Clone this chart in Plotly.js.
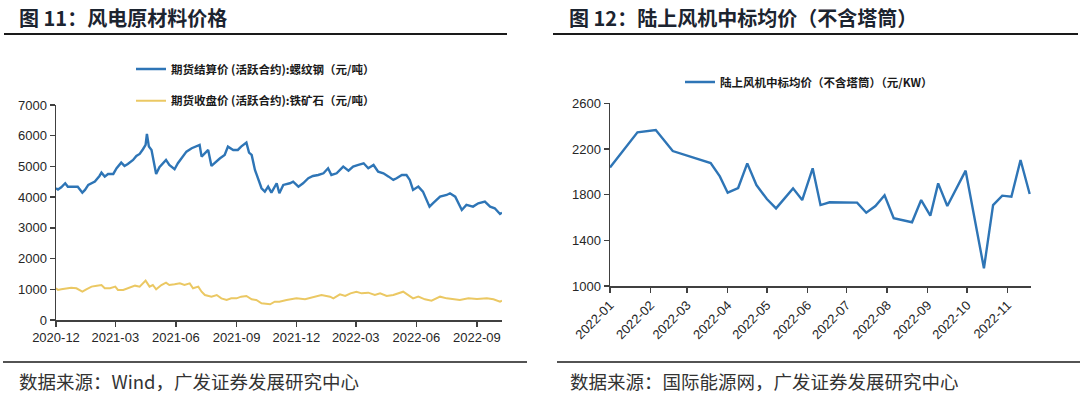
<!DOCTYPE html>
<html>
<head>
<meta charset="utf-8">
<script src="https://cdn.plot.ly/plotly-3.0.1.min.js"></script>
<style>
html,body{margin:0;padding:0;background:#fff;}
#chart{width:1080px;height:396px;}
</style>
</head>
<body>
<div id="chart"></div>
<script>
// ---- Left chart: 风电原材料价格 ----
const rebarDates = ['2020-12-01','2020-12-04','2020-12-09','2020-12-15','2020-12-19','2020-12-24','2020-12-29','2021-01-03','2021-01-10','2021-01-14','2021-01-19','2021-01-29','2021-02-05','2021-02-08','2021-02-13','2021-02-18','2021-02-26','2021-03-03','2021-03-10','2021-03-15','2021-03-20','2021-03-28','2021-04-02','2021-04-07','2021-04-12','2021-04-16','2021-04-18','2021-04-21','2021-04-25','2021-04-28','2021-05-02','2021-05-07','2021-05-12','2021-05-17','2021-05-22','2021-05-30','2021-06-04','2021-06-12','2021-06-17','2021-06-25','2021-07-02','2021-07-07','2021-07-10','2021-07-15','2021-07-20','2021-07-25','2021-07-30','2021-08-07','2021-08-14','2021-08-19','2021-08-27','2021-09-03','2021-09-08','2021-09-16','2021-09-20','2021-09-24','2021-09-29','2021-10-04','2021-10-09','2021-10-14','2021-10-19','2021-10-24','2021-11-01','2021-11-05','2021-11-11','2021-11-21','2021-11-26','2021-12-04','2021-12-11','2021-12-19','2021-12-26','2022-01-03','2022-01-11','2022-01-18','2022-01-23','2022-01-31','2022-02-10','2022-02-18','2022-02-25','2022-03-05','2022-03-13','2022-03-20','2022-03-28','2022-04-04','2022-04-12','2022-04-20','2022-04-27','2022-05-02','2022-05-10','2022-05-17','2022-05-22','2022-05-27','2022-06-04','2022-06-11','2022-06-16','2022-06-21','2022-06-26','2022-07-07','2022-07-17','2022-07-22','2022-07-30','2022-08-06','2022-08-09','2022-08-16','2022-08-26','2022-09-03','2022-09-13','2022-09-21','2022-09-28','2022-10-06','2022-10-09'];
const rebarValues = [4289,4250,4322,4452,4340,4340,4320,4340,4146,4234,4397,4505,4690,4797,4668,4755,4755,4940,5123,5016,5081,5211,5341,5407,5560,5700,6058,5645,5537,5156,4755,4973,5103,5211,5048,4908,5103,5341,5482,5592,5645,5700,5319,5428,5537,5016,5124,5265,5374,5645,5537,5537,5645,5776,5450,5374,4886,4560,4289,4180,4343,4146,4452,4126,4397,4452,4505,4343,4452,4615,4690,4722,4777,4940,4722,4777,4994,4863,4994,5048,5103,4940,5048,4831,4777,4668,4560,4615,4722,4722,4560,4234,4343,4180,3963,3691,3800,4017,4071,4126,4017,3746,3583,3746,3691,3800,3854,3691,3637,3452,3494];

const oreDates = ['2020-12-01','2020-12-04','2020-12-09','2020-12-17','2020-12-24','2021-01-01','2021-01-10','2021-01-16','2021-01-24','2021-02-01','2021-02-08','2021-02-13','2021-02-21','2021-03-01','2021-03-05','2021-03-13','2021-03-23','2021-03-31','2021-04-07','2021-04-16','2021-04-22','2021-04-27','2021-05-02','2021-05-10','2021-05-17','2021-05-22','2021-05-30','2021-06-07','2021-06-14','2021-06-22','2021-06-27','2021-07-05','2021-07-10','2021-07-15','2021-07-25','2021-08-02','2021-08-09','2021-08-17','2021-08-24','2021-09-01','2021-09-08','2021-09-16','2021-09-24','2021-10-01','2021-10-09','2021-10-17','2021-10-22','2021-10-29','2021-11-05','2021-11-16','2021-12-01','2021-12-14','2021-12-26','2022-01-08','2022-01-21','2022-01-26','2022-02-05','2022-02-13','2022-02-21','2022-03-02','2022-03-10','2022-03-20','2022-03-30','2022-04-07','2022-04-17','2022-04-27','2022-05-12','2022-05-20','2022-05-27','2022-06-04','2022-06-14','2022-06-24','2022-07-07','2022-07-17','2022-07-27','2022-08-06','2022-08-19','2022-09-01','2022-09-16','2022-09-26','2022-10-06','2022-10-09'];
const oreValues = [1032,977,1000,1032,1053,1032,922,1000,1086,1118,1140,1032,1032,1086,977,977,1053,1118,1086,1281,1086,1140,1000,1140,1216,1140,1162,1194,1140,1194,1032,1086,922,814,760,814,705,651,705,705,760,781,673,651,543,530,510,597,597,651,705,673,738,814,760,705,836,781,868,922,868,890,814,868,781,814,922,814,705,760,673,629,760,705,673,651,705,684,705,673,597,629];

// ---- Right chart: 陆上风机中标均价 ----
const bidDates = ['2022-01-01','2022-01-22','2022-02-05','2022-02-18','2022-03-19','2022-03-26','2022-04-01','2022-04-09','2022-04-16','2022-04-23','2022-05-01','2022-05-08','2022-05-21','2022-05-28','2022-06-05','2022-06-11','2022-06-18','2022-07-09','2022-07-16','2022-07-23','2022-07-30','2022-08-06','2022-08-20','2022-08-27','2022-09-03','2022-09-09','2022-09-16','2022-09-30','2022-10-14','2022-10-21','2022-10-28','2022-11-04','2022-11-11','2022-11-18'];
const bidValues = [2038,2346,2366,2182,2077,1960,1817,1858,2074,1884,1762,1680,1855,1753,2031,1709,1733,1730,1642,1700,1794,1593,1558,1753,1616,1899,1700,2010,1155,1709,1791,1782,2103,1806];

const leftTickLabels = ['0','1000','2000','3000','4000','5000','6000','7000'];
const rightTickLabels = ['1000','1400','1800','2200','2600'];

const W = 1080, H = 396;
const px = v => v / W;
const py = v => 1 - v / H;

const axisColor = '#404040';
const tickFont = {family: 'Liberation Sans, Arial, sans-serif', size: 13, color: '#262626'};
const cjk = 'Noto Sans CJK SC, sans-serif';

const traces = [
  {x: rebarDates, y: rebarValues, type: 'scatter', mode: 'lines',
   name: '期货结算价 (活跃合约):螺纹钢（元/吨）',
   line: {color: '#2E75B6', width: 2.4}, xaxis: 'x', yaxis: 'y', legend: 'legend'},
  {x: oreDates, y: oreValues, type: 'scatter', mode: 'lines',
   name: '期货收盘价 (活跃合约):铁矿石（元/吨）',
   line: {color: '#EBC863', width: 2}, xaxis: 'x', yaxis: 'y', legend: 'legend2'},
  {x: bidDates, y: bidValues, type: 'scatter', mode: 'lines',
   name: '陆上风机中标均价（不含塔筒）（元/KW）',
   line: {color: '#2E75B6', width: 2.4}, xaxis: 'x2', yaxis: 'y2', legend: 'legend3'}
];

const commonAxis = {
  showgrid: false, zeroline: false, showline: true, linecolor: axisColor, linewidth: 1.5,
  ticks: 'outside', ticklen: 5, tickwidth: 1.5, tickcolor: axisColor, tickfont: tickFont
};

const legendFont = {family: cjk, size: 11.5, color: '#1a1a1a', weight: 'bold'};

const layout = {
  width: W, height: H,
  margin: {l: 0, r: 0, t: 0, b: 0},
  paper_bgcolor: '#ffffff', plot_bgcolor: '#ffffff',
  showlegend: true,
  xaxis: Object.assign({}, commonAxis, {
    domain: [px(56), px(502)], anchor: 'y', type: 'date',
    range: ['2020-12-01', '2022-10-09'], tick0: '2020-12-01', dtick: 'M3', tickformat: '%Y-%m'
  }),
  yaxis: Object.assign({}, commonAxis, {
    domain: [py(320), py(105)], anchor: 'x', range: [0, 7000],
    tickvals: leftTickLabels.map(Number), ticktext: leftTickLabels
  }),
  xaxis2: Object.assign({}, commonAxis, {
    domain: [px(610), px(1031)], anchor: 'y2', type: 'date',
    range: ['2022-01-01', '2022-11-19'], tick0: '2022-01-01', dtick: 'M1', tickformat: '%Y-%m',
    tickangle: -45
  }),
  yaxis2: Object.assign({}, commonAxis, {
    domain: [py(286), py(103.3)], anchor: 'x2', range: [1000, 2600],
    tickvals: rightTickLabels.map(Number), ticktext: rightTickLabels
  }),
  legend: {x: px(131), y: py(69), xanchor: 'left', yanchor: 'middle', bgcolor: 'rgba(0,0,0,0)', font: legendFont, itemwidth: 30},
  legend2: {x: px(131), y: py(100.7), xanchor: 'left', yanchor: 'middle', bgcolor: 'rgba(0,0,0,0)', font: legendFont, itemwidth: 30},
  legend3: {x: px(680), y: py(82), xanchor: 'left', yanchor: 'middle', bgcolor: 'rgba(0,0,0,0)', font: legendFont, itemwidth: 30},
  shapes: [
    {type: 'line', xref: 'paper', yref: 'paper', x0: px(4), x1: px(507), y0: py(34), y1: py(34), line: {color: '#1a1a1a', width: 2}},
    {type: 'line', xref: 'paper', yref: 'paper', x0: px(553), x1: px(1078), y0: py(34), y1: py(34), line: {color: '#1a1a1a', width: 2}},
    {type: 'line', xref: 'paper', yref: 'paper', x0: px(3), x1: px(527), y0: py(362), y1: py(362), line: {color: '#1a1a1a', width: 1.5}},
    {type: 'line', xref: 'paper', yref: 'paper', x0: px(557), x1: px(1080), y0: py(362), y1: py(362), line: {color: '#1a1a1a', width: 1.5}}
  ],
  annotations: [
    {text: '图 11：风电原材料价格', xref: 'paper', yref: 'paper', x: px(17), y: py(18), xanchor: 'left', yanchor: 'middle', showarrow: false,
     font: {family: cjk, size: 20, color: '#1c2430', weight: 'bold'}},
    {text: '图 12：陆上风机中标均价（不含塔筒）', xref: 'paper', yref: 'paper', x: px(567), y: py(18), xanchor: 'left', yanchor: 'middle', showarrow: false,
     font: {family: cjk, size: 20, color: '#1c2430', weight: 'bold'}},
    {text: '数据来源：Wind，广发证券发展研究中心', xref: 'paper', yref: 'paper', x: px(17), y: py(381), xanchor: 'left', yanchor: 'middle', showarrow: false,
     font: {family: cjk, size: 18.5, color: '#333333'}},
    {text: '数据来源：国际能源网，广发证券发展研究中心', xref: 'paper', yref: 'paper', x: px(568), y: py(381), xanchor: 'left', yanchor: 'middle', showarrow: false,
     font: {family: cjk, size: 18.5, color: '#333333'}}
  ]
};

Plotly.newPlot('chart', traces, layout, {displayModeBar: false, staticPlot: true});
</script>
</body>
</html>
